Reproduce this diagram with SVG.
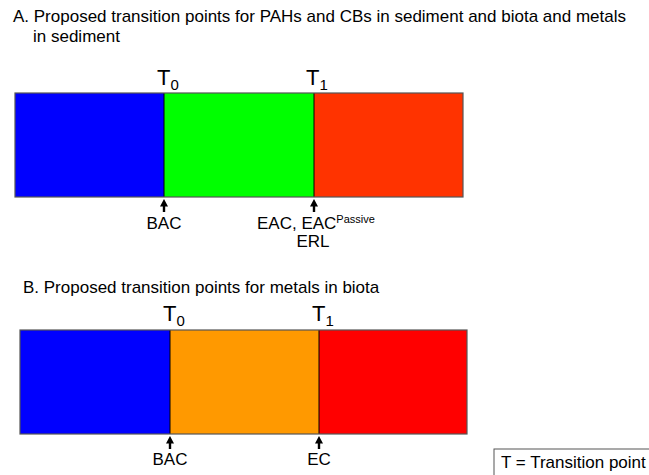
<svg xmlns="http://www.w3.org/2000/svg" width="649" height="475" viewBox="0 0 649 475">
<style>
text{font-family:"Liberation Sans",Arial,sans-serif;fill:#000}
.t{font-size:17px}
.T{font-size:22px}
.lb{font-size:17px}
.seg{stroke:#000;stroke-width:1}
.frame{fill:none;stroke:#555;stroke-width:1.2}
.ar{stroke:#000;stroke-width:2.4;marker-end:url(#ah)}
</style>
<defs>
<marker id="ah" markerWidth="9" markerHeight="9" refX="4.5" refY="4.5" orient="auto" markerUnits="userSpaceOnUse">
<path d="M0.5,8 L4.5,0.5 L8.5,8 Z" fill="#000" transform="rotate(90 4.5 4.5)"/>
</marker>
</defs>
<text class="t" x="13" y="22">A. Proposed transition points for PAHs and CBs in sediment and biota and metals</text>
<text class="t" x="33" y="42">in sediment</text>
<g id="barA">
<rect x="15" y="93" width="149" height="104" fill="#0000FF"/>
<rect x="164" y="93" width="150" height="104" fill="#00FF00"/>
<rect x="314" y="93" width="149" height="104" fill="#FF3300"/>
<line class="seg" x1="164" y1="93" x2="164" y2="197"/>
<line class="seg" x1="314" y1="93" x2="314" y2="197"/>
<rect class="frame" x="15" y="93" width="448" height="104"/>
</g>
<g id="labelsA">
<text class="T" x="157" y="85">T<tspan font-size="15" dy="5">0</tspan></text>
<text class="T" x="306" y="85">T<tspan font-size="15" dy="5">1</tspan></text>
<text class="lb" x="164" y="229" text-anchor="middle">BAC</text>
<text class="lb" x="257" y="229">EAC, EAC<tspan font-size="11" dy="-6">Passive</tspan></text>
<text class="lb" x="313" y="247" text-anchor="middle">ERL</text>
</g>
<text class="t" x="23" y="293">B. Proposed transition points for metals in biota</text>
<g id="barB">
<rect x="20" y="330" width="150" height="104" fill="#0000FF"/>
<rect x="170" y="330" width="149" height="104" fill="#FF9900"/>
<rect x="319" y="330" width="148" height="104" fill="#FF0000"/>
<line class="seg" x1="170" y1="330" x2="170" y2="434"/>
<line class="seg" x1="319" y1="330" x2="319" y2="434"/>
<rect class="frame" x="20" y="330" width="447" height="104"/>
</g>
<g id="labelsB">
<text class="T" x="163" y="321">T<tspan font-size="15" dy="5">0</tspan></text>
<text class="T" x="312" y="321">T<tspan font-size="15" dy="5">1</tspan></text>
<text class="lb" x="170" y="465" text-anchor="middle">BAC</text>
<text class="lb" x="319" y="465" text-anchor="middle">EC</text>
</g>
<g id="connectors">
<line class="ar" x1="164" y1="212" x2="164" y2="203"/>
<line class="ar" x1="314" y1="212" x2="314" y2="203"/>
<line class="ar" x1="170" y1="449" x2="170" y2="440"/>
<line class="ar" x1="319" y1="449" x2="319" y2="440"/>
</g>
<g id="legend">
<rect x="494" y="449" width="160" height="30" fill="#fff" stroke="#555" stroke-width="1"/>
<text class="lb" x="501" y="468">T = Transition point</text>
</g>
</svg>
